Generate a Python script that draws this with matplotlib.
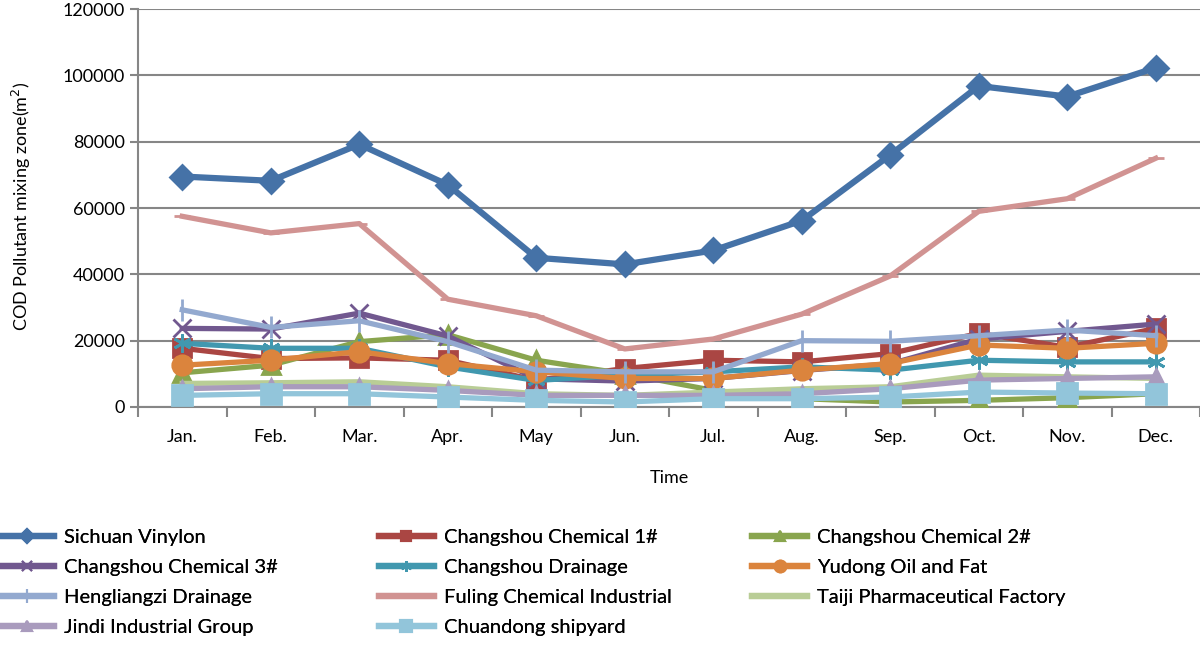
import numpy as np
import matplotlib; matplotlib.use('Agg'); import matplotlib.pyplot as plt
from matplotlib.lines import Line2D

plt.rcParams['font.family'] = ['Lato', 'DejaVu Sans']

MONTHS = ['Jan.', 'Feb.', 'Mar.', 'Apr.', 'May', 'Jun.', 'Jul.', 'Aug.', 'Sep.', 'Oct.', 'Nov.', 'Dec.']

sichuan_vinylon = [69500, 68200, 79200, 67000, 45000, 43000, 47200, 56200, 76000, 96800, 93600, 102300]
changshou_1 = [17700, 14600, 14800, 14100, 8000, 11600, 14100, 13600, 16100, 22200, 18000, 23700]
changshou_2 = [10300, 12600, 19700, 21800, 14100, 10000, 5000, 2500, 1500, 2000, 2800, 4000]
changshou_3 = [23700, 23500, 28300, 21400, 8500, 7800, 8600, 11000, 13000, 20500, 22800, 25000]
changshou_drain = [19200, 17700, 17700, 12100, 8000, 9600, 10600, 12100, 11100, 14100, 13600, 13600]
yudong = [12600, 14100, 16700, 13100, 10600, 8600, 8600, 11100, 13100, 18700, 17700, 19200]
hengliangzi = [29300, 24000, 26000, 19700, 11100, 10600, 10600, 20000, 19800, 21500, 23200, 21500]
fuling = [57500, 52500, 55300, 32500, 27500, 17500, 20500, 28000, 39500, 59000, 62800, 75000]
taiji = [7100, 7300, 7600, 6100, 4000, 3500, 4500, 5500, 6100, 9600, 9100, 8600]
jindi = [5500, 6100, 6100, 5000, 3500, 3500, 3500, 4000, 5500, 8100, 8600, 9100]
chuandong = [3500, 4000, 4000, 3000, 2000, 1500, 2500, 2500, 3000, 4500, 4200, 4000]

SERIES = [
    ('Sichuan Vinylon', sichuan_vinylon, '#4572A7', 'D', 12),
    ('Changshou Chemical 1#', changshou_1, '#AA4643', 's', 13),
    ('Changshou Chemical 2#', changshou_2, '#89A54E', '^', 13),
    ('Changshou Chemical 3#', changshou_3, '#71588F', 'x', 13),
    ('Changshou Drainage', changshou_drain, '#4198AF', (6, 2, 0), 13),
    ('Yudong Oil and Fat', yudong, '#DB843D', 'o', 14),
    ('Hengliangzi Drainage', hengliangzi, '#93A9CF', '|', 16),
    ('Fuling Chemical Industrial', fuling, '#D19392', '_', 11),
    ('Taiji Pharmaceutical Factory', taiji, '#B9CD96', None, 0),
    ('Jindi Industrial Group', jindi, '#A99BBD', '^', 12),
    ('Chuandong shipyard', chuandong, '#92C5DA', 's', 14),
]

fig = plt.figure(figsize=(12, 6.46), dpi=100)
ax = fig.add_axes([0.115, 0.370, 0.885, 0.616])
x = np.arange(len(MONTHS))

handles = []
for name, vals, col, mk, ms in SERIES:
    lw = 4.5 if name == 'Sichuan Vinylon' else 3.8
    ax.plot(x, vals, color=col, lw=lw, marker=mk, ms=ms, mew=2, mfc=col, mec=col, zorder=3)
    handles.append(Line2D([], [], color=col, lw=4.5, marker=mk, ms=ms * 0.6, mew=1.5, mfc=col, mec=col))

ax.set_xlim(-0.5, 11.5)
ax.set_ylim(0, 120000)
ax.set_yticks(np.arange(0, 120001, 20000))
ax.yaxis.grid(True, color='#868686', lw=1.5)
ax.set_axisbelow(True)
ax.set_xticks(x)
ax.set_xticklabels(MONTHS, fontsize=13)
ax.set_xticks(np.arange(-0.5, 12, 1), minor=True)
ax.tick_params(axis='x', which='major', length=0, pad=16)
ax.tick_params(axis='x', which='minor', length=7, width=1.5, color='#868686')
ax.tick_params(axis='y', length=6, width=1.5, color='#868686', labelsize=13)
for s in ['top', 'right']:
    ax.spines[s].set_visible(False)
for s in ['left', 'bottom']:
    ax.spines[s].set_color('#868686')
    ax.spines[s].set_linewidth(1.5)

ax.set_xlabel('Time', fontsize=13, labelpad=18)
fig.text(0.008, 0.68, 'COD Pollutant mixing zone(m$^2$)', rotation=90, va='center', ha='left', fontsize=13)

# legend laid out row by row in three fixed columns
names = [s[0] for s in SERIES]
for c, xpos in enumerate([0.0, 0.316, 0.627]):
    leg = fig.legend(handles[c::3], names[c::3], loc='upper left', bbox_to_anchor=(xpos, 0.181),
                     ncol=1, frameon=False, fontsize=14.5, handlelength=2.7, handletextpad=0.5,
                     labelspacing=0.64, borderaxespad=0, borderpad=0)
    fig.add_artist(leg)

fig.savefig('out.png', dpi=100)
